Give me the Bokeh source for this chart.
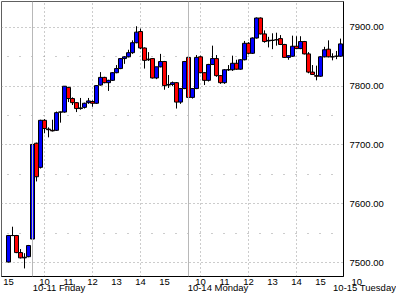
from bokeh.plotting import figure
from bokeh.models import (Range1d, FixedTicker, NumeralTickFormatter, Span,
                          ColumnDataSource)
from bokeh.embed import file_html
from bokeh.resources import INLINE

# 10-minute bars: Thu 10-10 15:00 .. Mon 10-14 15:50 (overnight gaps collapsed)
opens = [7501, 7546, 7546, 7517, 7508, 7510, 7540, 7703, 7662, 7742,
         7727, 7725, 7725, 7756, 7756, 7798, 7779, 7772, 7762, 7764,
         7772, 7774, 7771, 7802, 7815, 7806, 7810, 7823, 7830, 7847,
         7850, 7857, 7874, 7893, 7865, 7846, 7847, 7814, 7833, 7842,
         7802, 7803, 7806, 7773, 7796, 7849, 7781, 7796, 7850, 7823,
         7810, 7837, 7847, 7818, 7806, 7828, 7828, 7839, 7829, 7845,
         7873, 7856, 7882, 7916, 7889, 7877, 7878, 7879, 7881, 7871,
         7849, 7851, 7868, 7864, 7876, 7855, 7824, 7818, 7817, 7850,
         7863, 7850, 7851, 7851]
highs = [7547, 7561, 7547, 7523, 7516, 7530, 7702, 7704, 7743, 7744,
         7730, 7743, 7757, 7757, 7800, 7799, 7781, 7773, 7780, 7772,
         7780, 7776, 7802, 7824, 7816, 7811, 7824, 7836, 7848, 7851,
         7862, 7878, 7902, 7898, 7866, 7858, 7848, 7833, 7855, 7843,
         7819, 7808, 7807, 7797, 7843, 7852, 7797, 7853, 7852, 7824,
         7838, 7869, 7853, 7819, 7829, 7836, 7852, 7845, 7846, 7877,
         7875, 7883, 7917, 7917, 7895, 7884, 7890, 7891, 7887, 7872,
         7853, 7886, 7885, 7885, 7877, 7858, 7836, 7835, 7851, 7867,
         7878, 7856, 7860, 7881]
lows = [7500, 7545, 7516, 7507, 7490, 7509, 7539, 7638, 7660, 7720,
        7713, 7723, 7724, 7738, 7755, 7773, 7768, 7756, 7760, 7762,
        7770, 7765, 7770, 7801, 7805, 7792, 7809, 7822, 7829, 7838,
        7849, 7855, 7873, 7863, 7830, 7843, 7813, 7812, 7832, 7794,
        7797, 7800, 7762, 7770, 7795, 7737, 7779, 7795, 7822, 7802,
        7808, 7836, 7816, 7804, 7804, 7826, 7826, 7828, 7828, 7844,
        7854, 7855, 7881, 7888, 7874, 7866, 7863, 7869, 7870, 7848,
        7845, 7850, 7863, 7863, 7854, 7822, 7819, 7810, 7816, 7849,
        7849, 7844, 7846, 7850]
closes = [7546, 7546, 7517, 7508, 7509, 7529, 7701, 7646, 7742, 7728,
          7726, 7724, 7755, 7756, 7800, 7779, 7772, 7762, 7763, 7771,
          7775, 7771, 7801, 7815, 7806, 7810, 7823, 7830, 7847, 7850,
          7857, 7874, 7892, 7865, 7844, 7845, 7814, 7833, 7842, 7801,
          7803, 7806, 7773, 7796, 7842, 7781, 7796, 7849, 7823, 7810,
          7837, 7847, 7818, 7806, 7828, 7828, 7839, 7829, 7845, 7873,
          7856, 7882, 7916, 7889, 7876, 7878, 7878, 7879, 7871, 7849,
          7852, 7868, 7864, 7876, 7855, 7824, 7820, 7817, 7850, 7862,
          7850, 7850, 7851, 7872]

NB = "\u00a0"
# hour ticks (bar index) and labels
hour_tick_pos = [0, 9, 15, 21, 27, 33, 39, 48, 54, 60, 66, 72, 78]
hour_tick_labels = ["15", "10", "11", "12", "13", "14", "15",
                    "10", "11", "12", "13", "14", "15"]
grid_pos = [9, 21, 33, 48, 60, 72]
# first bar of each day (Tuesday's first bar is at the right edge) and its labels
day_start = [6, 45, 83.75]
day_labels = ["10-11 Friday", "10-14 Monday", "10-15 Tuesday"]
day_hour_labels = ["", "", "10"]        # Tuesday 10:00 lies just past the edge

# layout helpers (pixels)
BAR_PX = 4.0
label_half_w = [26.5, 29.5, 0.0]        # shift so the centred day text starts at its first bar
day_label_pad = [0, 0, 16]              # Tuesday: pad instead (tick sits on the edge)
day_hour_pad = [0, 0, 10]

price_ticks = [7500, 7600, 7700, 7800, 7900]
price_minor = [7550, 7650, 7750, 7850]

UP = "#0000ff"
DOWN = "#ff0000"
FONT = "Liberation Sans"
FS = "9.5px"

idx = list(range(len(opens)))
src = ColumnDataSource(dict(
    x=idx, o=opens, h=highs, l=lows, c=closes,
    top=[max(a, b) for a, b in zip(opens, closes)],
    bot=[min(a, b) for a, b in zip(opens, closes)],
    col=[UP if c >= o else DOWN for o, c in zip(opens, closes)],
))

p = figure(width=396, height=296, output_backend="svg", toolbar_location=None,
           x_range=Range1d(-1.75, 83.75), y_range=Range1d(7476.3, 7944.1),
           y_axis_location="right",
           min_border_left=1, min_border_top=1, min_border_right=53, min_border_bottom=19)
p.background_fill_color = "white"
p.border_fill_color = "white"
p.outline_line_color = "#606060"
p.outline_line_width = 1

# grids
p.xgrid.ticker = FixedTicker(ticks=grid_pos)
p.xgrid.grid_line_color = "#999999"
p.xgrid.grid_line_dash = "1 3"
yt = FixedTicker(ticks=price_ticks, minor_ticks=price_minor)
p.ygrid.ticker = yt
p.ygrid.grid_line_color = "#999999"
p.ygrid.grid_line_dash = "1 3"
p.ygrid.minor_grid_line_color = "#999999"
p.ygrid.minor_grid_line_dash = "1 11"
p.ygrid.minor_grid_line_dash_offset = 6

for d in day_start[:2]:
    p.add_layout(Span(location=d, dimension="height", line_color="#b8b8b8", line_width=1))

p.segment(x0="x", y0="l", x1="x", y1="h", source=src, line_color="black", line_width=1)
p.vbar(x="x", width=1.0, top="top", bottom="bot", source=src,
       fill_color="col", line_color="black", line_width=1)

# right axis
p.yaxis.ticker = yt
p.yaxis.formatter = NumeralTickFormatter(format="0.00")
p.yaxis.major_tick_out = 0
p.yaxis.major_tick_in = 0
p.yaxis.minor_tick_out = 0
p.yaxis.minor_tick_in = 0
p.yaxis.axis_line_color = "black"
p.yaxis.major_label_standoff = 6
p.yaxis.major_label_text_font = FONT
p.yaxis.major_label_text_font_size = FS
p.yaxis.major_label_text_color = "black"

# bottom axis: hours on the first line, day names on the second
overrides = {k: v for k, v in zip(hour_tick_pos, hour_tick_labels)}
day_ticks = []
for k, hw, d, hl, dp, hp in zip(day_start, label_half_w, day_labels,
                                day_hour_labels, day_label_pad, day_hour_pad):
    t = k + hw / BAR_PX
    day_ticks.append(t)
    overrides[t] = (NB * hp + hl if hl else NB) + "\n" + NB * dp + d
p.xaxis.ticker = FixedTicker(ticks=sorted(hour_tick_pos + day_ticks))
p.xaxis.major_label_overrides = overrides
p.xaxis.major_tick_out = 0
p.xaxis.major_tick_in = 0
p.xaxis.minor_tick_out = 0
p.xaxis.minor_tick_in = 0
p.xaxis.axis_line_color = "black"
p.xaxis.major_label_standoff = -1
p.xaxis.major_label_text_font = FONT
p.xaxis.major_label_text_font_size = FS
p.xaxis.major_label_text_line_height = 0.62
p.xaxis.major_label_text_color = "black"

open("out.html", "w").write(file_html(p, INLINE))
